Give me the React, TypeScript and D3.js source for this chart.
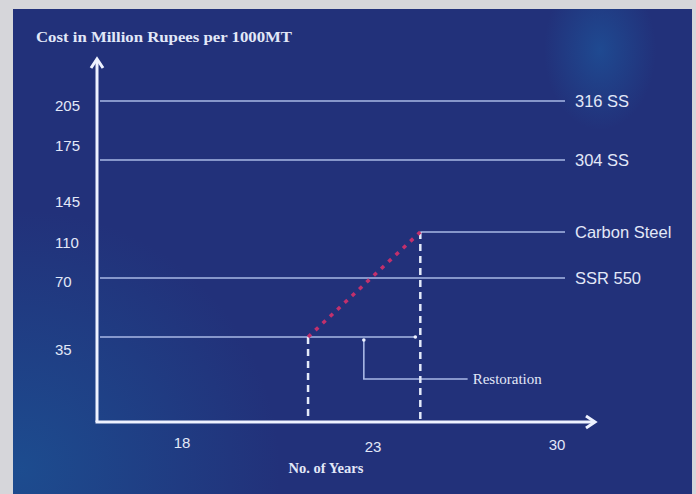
import React from "react";
import * as d3 from "d3";

// ---- data ----
const yTicks = [35, 70, 110, 145, 175, 205];
const xTicks = [18, 23, 30];
const materials = ["316 SS", "304 SS", "Carbon Steel", "SSR 550"];
const materialCost = [208.75, 167.5, 119.4, 74.1];
const restoredCost = 41.7;
const restorationYear = 21.3;
const carbonSteelYear = 24.8;
const bracketYear = [22.76, 26.6];
const bracketCost = 20.1;
const titleY = "Cost in Million Rupees per 1000MT";
const titleX = "No. of Years";
const annotation = "Restoration";

const W = 696;
const H = 494;

export default function App() {
  // schematic (piecewise) scales as the original axis is not uniform
  const y = d3.scaleLinear().domain(yTicks).range([350, 282, 243, 202, 146, 106]);
  const x = d3.scaleLinear().domain(xTicks).range([182, 373, 557]);

  const axisX0 = 97;
  const axisY0 = 422;
  const axisTop = 59;
  const axisRight = 595;
  const lineEnd = 565;
  const textCol = "#e2e8f8";
  const lineCol = "#a9b8e6";

  const xTickDy = [0, 4, 2];

  return (
    <div style={{ position: "fixed", left: 0, top: 0 }}>
      <svg width={W} height={H} style={{ display: "block" }}>
        <defs>
          <radialGradient
            id="glowTR"
            cx="600"
            cy="50"
            r="80"
            gradientUnits="userSpaceOnUse"
            gradientTransform="translate(600,50) scale(0.7,1) translate(-600,-50)"
          >
            <stop offset="0" stopColor="#1d5aa0" stopOpacity="0.6" />
            <stop offset="1" stopColor="#1d5aa0" stopOpacity="0" />
          </radialGradient>
          <radialGradient id="glowBL" cx="20" cy="470" r="260" gradientUnits="userSpaceOnUse">
            <stop offset="0" stopColor="#1b5596" stopOpacity="0.75" />
            <stop offset="1" stopColor="#1b5596" stopOpacity="0" />
          </radialGradient>
        </defs>
        <rect x={0} y={0} width={W} height={H} fill="#d6d6da" />
        <rect x={13} y={9} width={679} height={H - 9} fill="#22317a" />
        <rect x={13} y={9} width={679} height={H - 9} fill="url(#glowTR)" />
        <rect x={13} y={9} width={679} height={H - 9} fill="url(#glowBL)" />

        {/* title */}
        <text
          x={36}
          y={42}
          fill={textCol}
          fontFamily="'Liberation Serif', 'Times New Roman', serif"
          fontWeight="bold"
          fontSize={14}
          textLength={256}
          lengthAdjust="spacingAndGlyphs"
        >
          {titleY}
        </text>

        {/* material cost lines */}
        {materials.map((m, i) => {
          const x1 = m === "Carbon Steel" ? x(carbonSteelYear) : axisX0 + 3;
          return (
            <g key={m}>
              <line
                x1={x1}
                x2={lineEnd}
                y1={y(materialCost[i])}
                y2={y(materialCost[i])}
                stroke={lineCol}
                strokeWidth={1.6}
              />
              <text
                x={lineEnd + 10}
                y={y(materialCost[i])}
                dy="0.35em"
                fill={textCol}
                fontFamily="'Liberation Sans', Arial, sans-serif"
                fontSize={16.5}
              >
                {m}
              </text>
            </g>
          );
        })}

        {/* restored cost line */}
        <line
          x1={axisX0 + 3}
          x2={x(carbonSteelYear) - 5}
          y1={y(restoredCost)}
          y2={y(restoredCost)}
          stroke={lineCol}
          strokeWidth={1.6}
        />
        <circle cx={x(carbonSteelYear) - 5} cy={y(restoredCost)} r={1.8} fill="#eef2ff" />

        {/* restoration bracket */}
        <path
          d={`M${x(bracketYear[0])},${y(restoredCost) + 3} V${y(bracketCost)} H${x(bracketYear[1])}`}
          fill="none"
          stroke={lineCol}
          strokeWidth={1.6}
        />
        <circle cx={x(bracketYear[0])} cy={y(restoredCost) + 3} r={1.8} fill="#eef2ff" />
        <text
          x={x(bracketYear[1]) + 5}
          y={y(bracketCost)}
          dy="0.35em"
          fill={textCol}
          fontFamily="'Liberation Serif', 'Times New Roman', serif"
          fontSize={15}
        >
          {annotation}
        </text>

        {/* dashed verticals */}
        <line
          x1={x(restorationYear)}
          x2={x(restorationYear)}
          y1={y(restoredCost)}
          y2={axisY0}
          stroke="#e4eafa"
          strokeWidth={2.5}
          strokeDasharray="7,5"
        />
        <line
          x1={x(carbonSteelYear)}
          x2={x(carbonSteelYear)}
          y1={y(materialCost[2])}
          y2={axisY0}
          stroke="#e4eafa"
          strokeWidth={2.5}
          strokeDasharray="7,5"
        />

        {/* red dotted cost growth */}
        <line
          x1={x(restorationYear)}
          y1={y(restoredCost)}
          x2={x(carbonSteelYear)}
          y2={y(materialCost[2])}
          stroke="#c2306c"
          strokeWidth={3.5}
          strokeDasharray="4,6"
        />

        {/* axes */}
        <line x1={axisX0} x2={axisX0} y1={axisTop + 1} y2={axisY0} stroke="#eef2ff" strokeWidth={3} />
        <line x1={axisX0 - 1.5} x2={axisRight - 1} y1={axisY0} y2={axisY0} stroke="#eef2ff" strokeWidth={3} />
        <path
          d={`M${axisX0 - 6},${axisTop + 9} L${axisX0},${axisTop} L${axisX0 + 6},${axisTop + 9}`}
          fill="none"
          stroke="#eef2ff"
          strokeWidth={3}
        />
        <path
          d={`M${axisRight - 9},${axisY0 - 6} L${axisRight},${axisY0} L${axisRight - 9},${axisY0 + 6}`}
          fill="none"
          stroke="#eef2ff"
          strokeWidth={3}
        />

        {/* y tick labels */}
        {yTicks.map((t) => (
          <text
            key={t}
            x={55}
            y={y(t)}
            dy="0.35em"
            fill={textCol}
            fontFamily="'Liberation Sans', Arial, sans-serif"
            fontSize={15}
          >
            {t}
          </text>
        ))}

        {/* x tick labels */}
        {xTicks.map((t, i) => (
          <text
            key={t}
            x={x(t)}
            y={443 + xTickDy[i]}
            dy="0.35em"
            textAnchor="middle"
            fill={textCol}
            fontFamily="'Liberation Sans', Arial, sans-serif"
            fontSize={15}
          >
            {t}
          </text>
        ))}

        <text
          x={326}
          y={468}
          dy="0.35em"
          textAnchor="middle"
          fill={textCol}
          fontFamily="'Liberation Serif', 'Times New Roman', serif"
          fontWeight="bold"
          fontSize={14.5}
        >
          {titleX}
        </text>
      </svg>
    </div>
  );
}
